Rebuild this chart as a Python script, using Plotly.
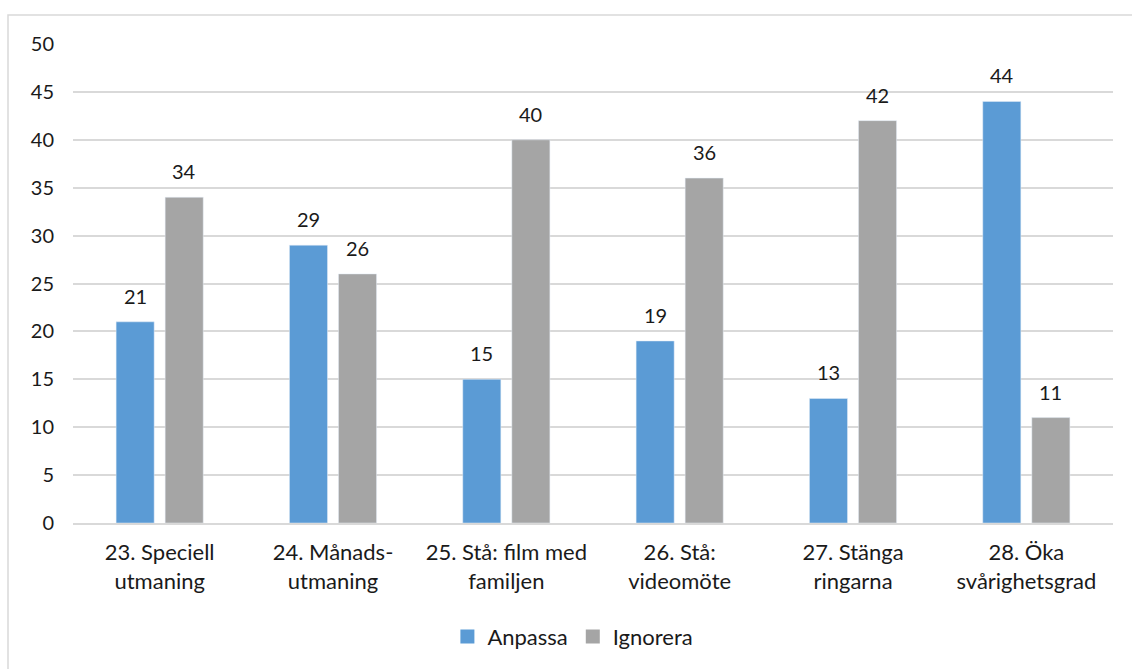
import plotly.graph_objects as go

categories = [
    "23. Speciell<br>utmaning",
    "24. Månads-<br>utmaning",
    "25. Stå: film med<br>familjen",
    "26. Stå:<br>videomöte",
    "27. Stänga<br>ringarna",
    "28. Öka<br>svårighetsgrad",
]
anpassa = [21, 29, 15, 19, 13, 44]
ignorera = [34, 26, 40, 36, 42, 11]
y_ticks = [0, 5, 10, 15, 20, 25, 30, 35, 40, 45, 50]

BLUE = "#5B9BD5"
GRAY = "#A5A5A5"
GRID = "#D9D9D9"
TEXT = "#1a1a1a"
FONT = "Lato"

fig = go.Figure()
fig.add_trace(go.Bar(name="Anpassa", x=categories, y=anpassa, marker_color=BLUE,
                     showlegend=False))
fig.add_trace(go.Bar(name="Ignorera", x=categories, y=ignorera, marker_color=GRAY,
                     showlegend=False))

# legend entries with square swatches
for name, color in (("Anpassa", BLUE), ("Ignorera", GRAY)):
    fig.add_trace(go.Scatter(
        x=[None], y=[None], mode="markers", name=name,
        marker=dict(symbol="square", size=14, color=color),
    ))

# value labels above each bar
for series, shift in ((anpassa, -24.5), (ignorera, 24.5)):
    for cat, val in zip(categories, series):
        fig.add_annotation(
            x=cat, y=val, xref="x", yref="y", text=str(val),
            showarrow=False, xshift=shift, yshift=12, yanchor="bottom",
            font=dict(family=FONT, size=20, color=TEXT),
        )

# chart frame
fig.add_shape(
    type="rect", xref="paper", yref="paper",
    x0=-0.0625, x1=1.3, y0=-0.6, y1=1.0604,
    line=dict(color=GRID, width=1.5), fillcolor="rgba(0,0,0,0)", layer="below",
)

fig.update_layout(
    width=1132, height=669,
    margin=dict(l=73, r=19, t=44, b=145),
    paper_bgcolor="white", plot_bgcolor="white",
    barmode="group", bargap=0.434, bargroupgap=0.224,
    font=dict(family=FONT, size=20, color=TEXT),
    showlegend=True,
    legend=dict(
        orientation="h", x=0.36, xanchor="left", y=-0.235, yanchor="middle",
        font=dict(family=FONT, size=22, color=TEXT), itemwidth=30,
    ),
    xaxis=dict(showgrid=False, showline=True, linecolor=GRID, linewidth=1.5,
               ticks="", ticklabelstandoff=9, tickfont=dict(size=22)),
    yaxis=dict(range=[0, 50], tickvals=y_ticks, showgrid=True, gridcolor=GRID,
               gridwidth=1.5, zeroline=False, showline=False, ticks="",
               ticklabelstandoff=18, tickfont=dict(size=20)),
)

fig.write_html("out.html")
